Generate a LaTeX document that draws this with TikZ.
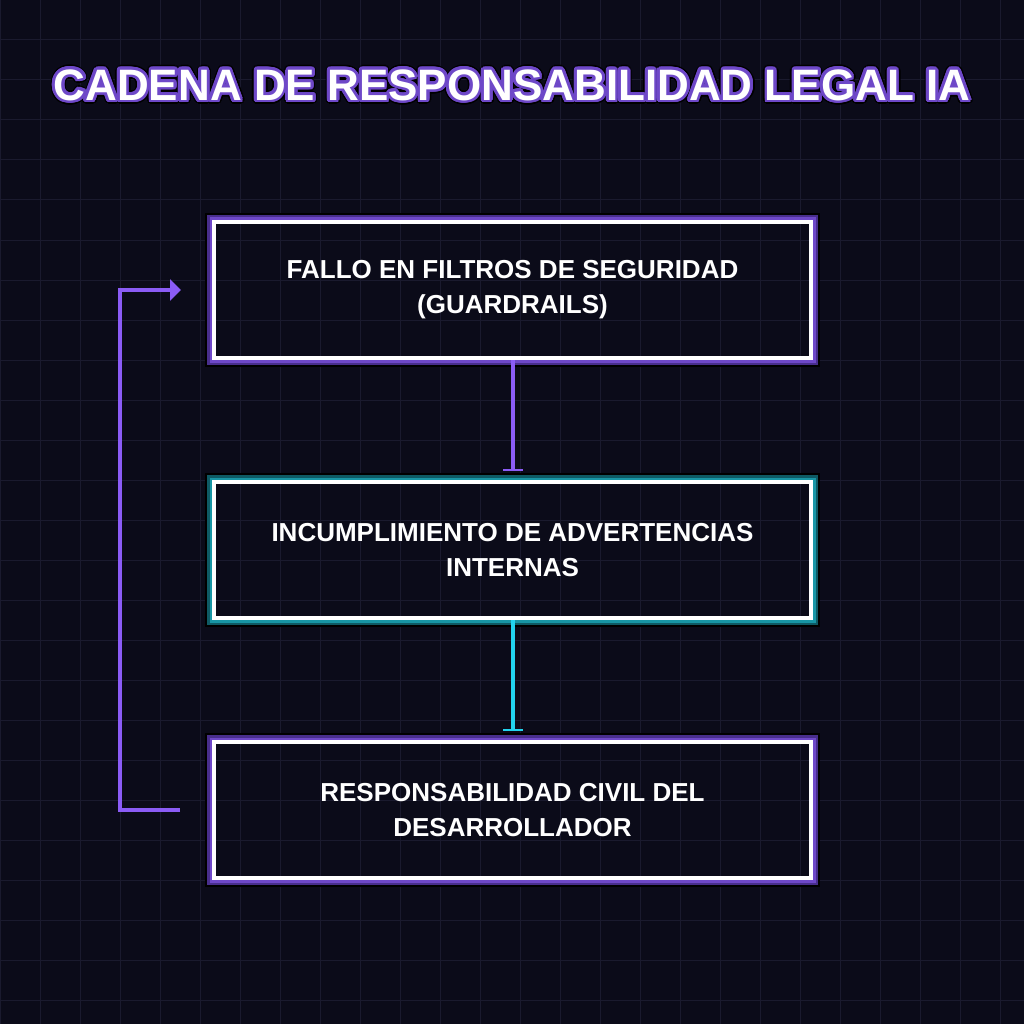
\documentclass[tikz,border=0pt]{standalone}
\usepackage{fontspec}
\setmainfont{Liberation Sans}
\usepackage{tikz}
\usetikzlibrary{arrows.meta,calc,positioning}
\definecolor{bgcolor}{RGB}{11,11,25}
\definecolor{gridcolor}{RGB}{26,26,46}
\definecolor{pcolor}{RGB}{139,92,246}
\definecolor{ccolor}{RGB}{34,211,238}
\definecolor{pglow}{RGB}{110,72,200}
\definecolor{pglowdark}{RGB}{72,46,140}
\definecolor{cglow}{RGB}{24,150,165}
\definecolor{cglowdark}{RGB}{14,90,100}
\newcommand{\titletext}{CADENA DE RESPONSABILIDAD LEGAL IA}
% glow round a box: node, light colour, dark colour
\newcommand{\glowbox}[3]{%
  \draw[line width=2.5pt,#2] ([shift={(-3.25,-3.25)}]#1.north west) rectangle ([shift={(3.25,3.25)}]#1.south east);
  \draw[line width=2.5pt,#3] ([shift={(-5.75,-5.75)}]#1.north west) rectangle ([shift={(5.75,5.75)}]#1.south east);
  \draw[line width=2pt,black] ([shift={(-8,-8)}]#1.north west) rectangle ([shift={(8,8)}]#1.south east);
}

\begin{document}
\begin{tikzpicture}[x=1pt,y=-1pt,
    stepbox/.style={draw=white,line width=4pt,minimum width=597pt,minimum height=136pt,
      inner sep=0pt,outer sep=0pt,align=center,text=white,
      font=\bfseries\fontsize{26}{35}\selectfont},
    titlefont/.style={font=\bfseries\fontsize{44}{44}\selectfont,inner sep=0pt},
    gridline/.style={gridcolor,line width=1pt},
    link/.style={line width=4pt}]
  \fill[bgcolor] (0,0) rectangle (1024,1024);
  \useasboundingbox (0,0) rectangle (1024,1024);
  \foreach \g in {0,40,...,1000} {
    \draw[gridline] (\g,0) -- (\g,1024);
    \draw[gridline] (0,\g) -- (1024,\g);
  }

  % title with outline
  \coordinate (tpos) at (512,85);
  \foreach \a in {0,15,...,345}
    \node[titlefont,black] at ($(tpos)+(\a:4.2)$) {\titletext};
  \foreach \a in {0,15,...,345}
    \node[titlefont,pglow] at ($(tpos)+(\a:2.8)$) {\titletext};
  \node[titlefont,white] (title) at (tpos) {\titletext};

  % the chain
  \node[stepbox] (fallo) at (512.5,290) {FALLO EN FILTROS DE SEGURIDAD\\(GUARDRAILS)};
  \node[stepbox] (advert) at (512.5,550) {INCUMPLIMIENTO DE ADVERTENCIAS\\INTERNAS};
  \node[stepbox] (civil) at (512.5,810) {RESPONSABILIDAD CIVIL DEL\\DESARROLLADOR};
  \glowbox{fallo}{pglow}{pglowdark}
  \glowbox{advert}{cglow}{cglowdark}
  \glowbox{civil}{pglow}{pglowdark}

  \draw[link,pcolor,-{Bar[width=20pt,line width=2pt]}] ([yshift=-2pt]fallo.south) -- ([yshift=11pt]advert.north);
  \draw[link,ccolor,-{Bar[width=20pt,line width=2pt]}] ([yshift=-2pt]advert.south) -- ([yshift=11pt]civil.north);
  \coordinate (loopin) at ([xshift=-33pt]fallo.west);
  \draw[link,pcolor,-{Triangle[length=11pt,width=21pt]}] ([xshift=-34pt]civil.west) -- ++(-60,0) |- (loopin);
\end{tikzpicture}
\end{document}
